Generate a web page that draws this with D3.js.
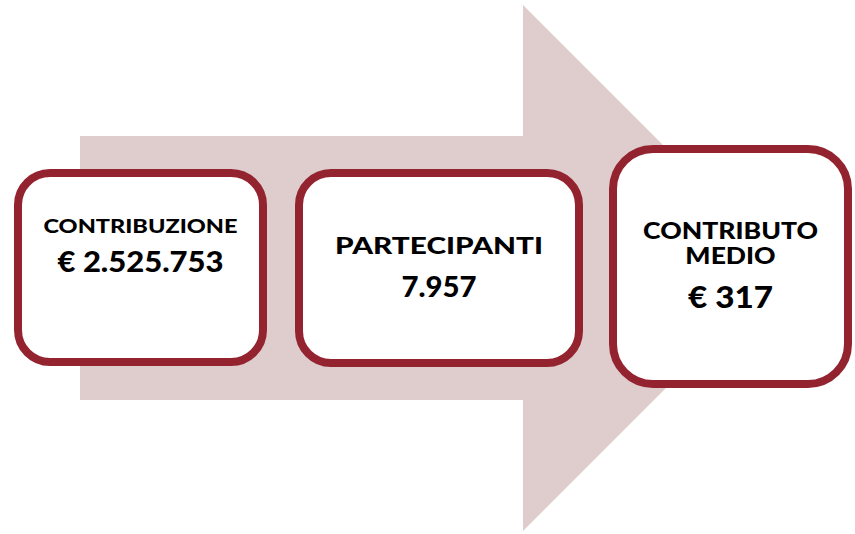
<!DOCTYPE html>
<html>
<head>
<meta charset="utf-8">
<script src="https://cdn.jsdelivr.net/npm/d3@7"></script>
<style>
  body { margin: 0; background: #fff; }
  svg { display: block; }
  text { font-family: Lato, "Open Sans", sans-serif; font-weight: 900; fill: #000; }
</style>
</head>
<body>
<svg width="855" height="534"></svg>
<script>
// data
var labels = [["CONTRIBUZIONE"], ["PARTECIPANTI"], ["CONTRIBUTO", "MEDIO"]];
var values = ["€ 2.525.753", "7.957", "€ 317"];

var svg = d3.select("svg");

// big background arrow
var arrow = [[80, 136], [523, 136], [523, 5], [786, 268], [523, 531], [523, 400], [80, 400]];
svg.append("path")
  .attr("d", d3.line()(arrow) + "Z")
  .style("fill", "#dfcdce");

// boxes (stroke centre lines) + text widths wanted
var boxes = [
  {x: 18, y: 173, w: 245, h: 189, r: 32, labelSize: 19.5, valueSize: 29, labelY: [233], valueY: 272, labelW: 194, valueW: 166},
  {x: 299, y: 173, w: 280, h: 190, r: 32, labelSize: 23, valueSize: 29, labelY: [254], valueY: 297, labelW: 208, valueW: 75},
  {x: 613, y: 149, w: 235, h: 235, r: 40, labelSize: 22, valueSize: 31, labelY: [239, 264], valueY: 308, labelW: 175, valueW: 85}
];

var g = svg.selectAll("g.box").data(boxes).enter().append("g").attr("class", "box");

g.append("rect")
  .attr("x", d => d.x).attr("y", d => d.y)
  .attr("width", d => d.w).attr("height", d => d.h)
  .attr("rx", d => d.r).attr("ry", d => d.r)
  .style("fill", "#fff")
  .style("stroke", "#93232f")
  .style("stroke-width", 8);

// stretch text sideways so it gets the wide look of the original font
function addText(node, str, cx, y, size, target, sx) {
  var t = node.append("text")
    .attr("text-anchor", "middle")
    .style("font-size", size + "px")
    .text(str);
  if (sx == null) sx = Math.max(1, target / t.node().getComputedTextLength());
  t.attr("transform", "translate(" + cx + "," + y + ") scale(" + sx + ",1)");
  return sx;
}

g.each(function(d, i) {
  var node = d3.select(this);
  var cx = d.x + d.w / 2;
  var sx = null;
  labels[i].forEach(function(l, j) {
    sx = addText(node, l, cx, d.labelY[j], d.labelSize, d.labelW, sx);
  });
  addText(node, values[i], cx, d.valueY, d.valueSize, d.valueW, null);
});
</script>
</body>
</html>
